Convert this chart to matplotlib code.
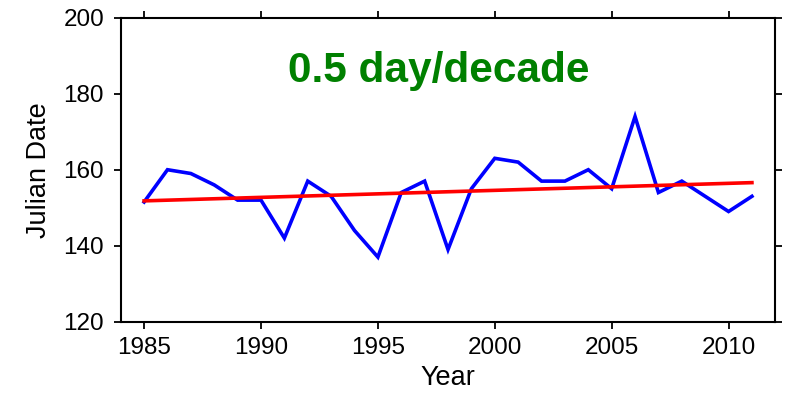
import matplotlib
matplotlib.use("Agg")
import matplotlib.pyplot as plt

years = list(range(1985, 2012))
julian = [151.5, 160, 159, 156, 152, 152, 142, 157, 153, 144, 137, 154, 157, 139,
          155, 163, 162, 157, 157, 160, 155, 174, 154, 157, 153, 149, 153]
trend_years = [1985, 2011]
trend_vals = [151.8, 156.6]
annotation = "0.5 day/decade"
yticks = [120, 140, 160, 180, 200]
xticks = [1985, 1990, 1995, 2000, 2005, 2010]

plt.rcParams['font.family'] = ['Liberation Sans', 'DejaVu Sans']

fig = plt.figure(figsize=(7.88, 3.94), dpi=100)
ax = fig.add_axes([0.1532, 0.1835, 0.8307, 0.7715])

ax.plot(years, julian, color='#0000ff', lw=2.6, solid_joinstyle='miter')
ax.plot(trend_years, trend_vals, color='#ff0000', lw=2.6)

ax.set_xlim(1984, 2012)
ax.set_ylim(120, 200)
ax.set_xticks(xticks)
ax.set_yticks(yticks)
ax.tick_params(which='both', direction='out', length=5, width=1.3,
               top=True, right=True, labelsize=17.5, pad=6)
ax.tick_params(axis='y', pad=7)
for s in ax.spines.values():
    s.set_linewidth(1.5)

ax.set_xlabel("Year", fontsize=19.5, labelpad=4)
ax.set_ylabel("Julian Date", fontsize=19.5, labelpad=8)

ax.text(1997.6, 186, annotation, color='#008000',
        fontsize=30.5, fontweight='bold', ha='center', va='center')

fig.savefig("out.png", dpi=100)
